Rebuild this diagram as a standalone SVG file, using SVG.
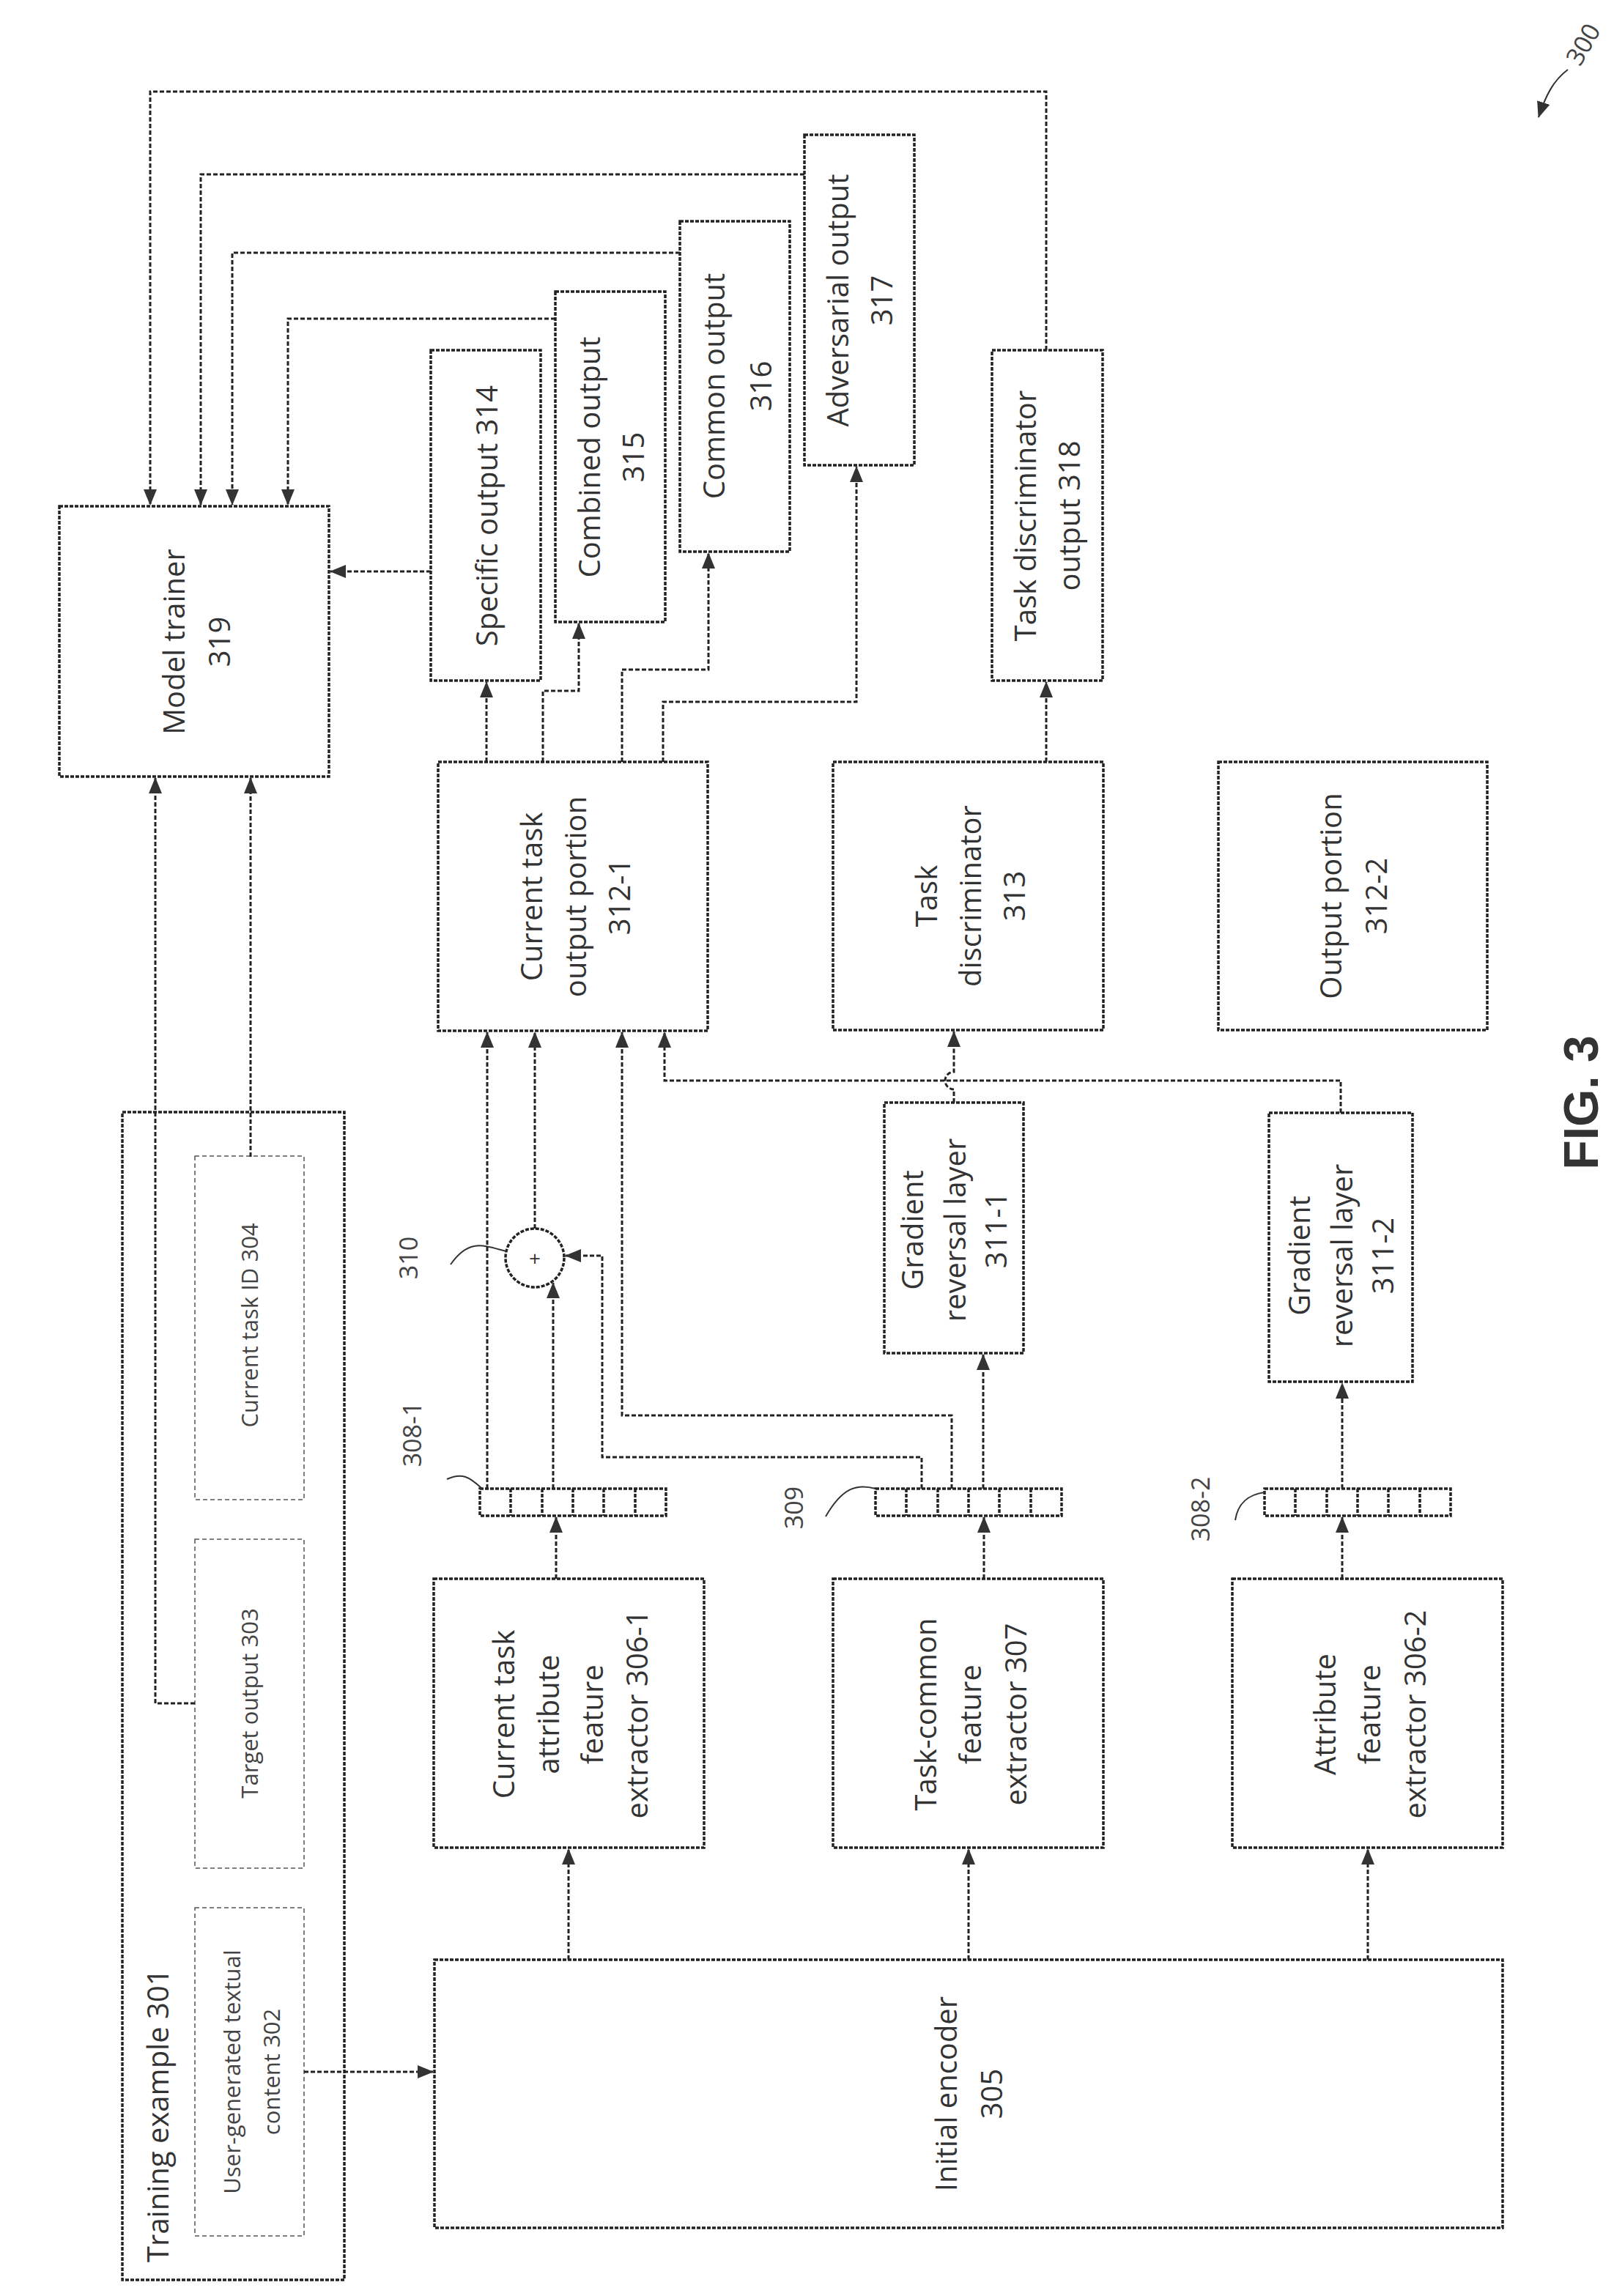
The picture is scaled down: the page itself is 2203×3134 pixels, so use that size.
<svg xmlns="http://www.w3.org/2000/svg" width="2203" height="3134" viewBox="0 0 2203 3134">
<style>
.b{fill:none;stroke:#222;stroke-width:3.5;stroke-dasharray:5 2}
.d{fill:none;stroke:#555;stroke-width:1.5;stroke-dasharray:6 4}
.c{fill:none;stroke:#222;stroke-width:3;stroke-dasharray:6 3}
.s{fill:none;stroke:#333;stroke-width:2}
text{font-family:"Open Sans","Liberation Sans",sans-serif;fill:#333;text-anchor:middle;dominant-baseline:central}
.t{font-size:40px}
.g{font-size:31px;fill:#444}
.l{font-size:34px;fill:#444}
</style>
<defs>
<marker id="a" markerWidth="22" markerHeight="18" refX="21" refY="9" orient="auto" markerUnits="userSpaceOnUse">
<path d="M0,0 L22,9 L0,18 Z" fill="#333"/>
</marker>
</defs>
<rect width="2203" height="3134" fill="#fff"/>

<g id="n319"><rect class="b" x="81" y="691" width="368" height="369"/>
<text class="t" transform="translate(267,876) rotate(-90)"><tspan x="0" y="-31">Model trainer</tspan><tspan x="0" y="31">319</tspan></text></g>

<g id="n314"><rect class="b" x="588" y="478" width="150" height="451"/>
<text class="t" transform="translate(663,704) rotate(-90)">Specific output 314</text></g>
<g id="n315"><rect class="b" x="758" y="398" width="150" height="451"/>
<text class="t" transform="translate(833,624) rotate(-90)"><tspan x="0" y="-30">Combined output</tspan><tspan x="0" y="30">315</tspan></text></g>
<g id="n316"><rect class="b" x="928" y="302" width="150" height="451"/>
<text class="t" transform="translate(1005,527) rotate(-90)"><tspan x="0" y="-32">Common output</tspan><tspan x="0" y="32">316</tspan></text></g>
<g id="n317"><rect class="b" x="1098" y="184" width="150" height="451"/>
<text class="t" transform="translate(1172,410) rotate(-90)"><tspan x="0" y="-30">Adversarial output</tspan><tspan x="0" y="30">317</tspan></text></g>
<g id="n318"><rect class="b" x="1354" y="478" width="151" height="451"/>
<text class="t" transform="translate(1428,704) rotate(-90)"><tspan x="0" y="-30">Task discriminator</tspan><tspan x="0" y="30">output 318</tspan></text></g>

<g id="n312-1"><rect class="b" x="598" y="1040" width="368" height="367"/>
<text class="t" transform="translate(784,1224) rotate(-90)"><tspan x="0" y="-60">Current task</tspan><tspan x="0" y="0">output portion</tspan><tspan x="0" y="60">312-1</tspan></text></g>
<g id="n313"><rect class="b" x="1137" y="1040" width="369" height="366"/>
<text class="t" transform="translate(1323,1223) rotate(-90)"><tspan x="0" y="-60">Task</tspan><tspan x="0" y="0">discriminator</tspan><tspan x="0" y="60">313</tspan></text></g>
<g id="n312-2"><rect class="b" x="1663" y="1040" width="367" height="366"/>
<text class="t" transform="translate(1846,1223) rotate(-90)"><tspan x="0" y="-31">Output portion</tspan><tspan x="0" y="31">312-2</tspan></text></g>

<g id="n311-1"><rect class="b" x="1207" y="1505" width="190" height="342"/>
<text class="t" transform="translate(1302,1679) rotate(-90)"><tspan x="0" y="-58">Gradient</tspan><tspan x="0" y="0">reversal layer</tspan><tspan x="0" y="56">311-1</tspan></text></g>
<g id="n311-2"><rect class="b" x="1732" y="1519" width="196" height="367"/>
<text class="t" transform="translate(1830,1714) rotate(-90)"><tspan x="0" y="-58">Gradient</tspan><tspan x="0" y="0">reversal layer</tspan><tspan x="0" y="56">311-2</tspan></text></g>

<g id="n310"><circle class="b" cx="730" cy="1717" r="40"/>
<text class="t" x="730" y="1717" style="font-size:28px">+</text></g>

<g id="n308-1"><rect class="b" x="655" y="2032" width="254" height="37"/>
<path class="b" d="M697,2032V2069M740,2032V2069M782,2032V2069M824,2032V2069M867,2032V2069"/></g>
<g id="n309"><rect class="b" x="1195" y="2032" width="254" height="37"/>
<path class="b" d="M1237,2032V2069M1280,2032V2069M1322,2032V2069M1364,2032V2069M1407,2032V2069"/></g>
<g id="n308-2"><rect class="b" x="1726" y="2032" width="254" height="37"/>
<path class="b" d="M1768,2032V2069M1811,2032V2069M1853,2032V2069M1895,2032V2069M1938,2032V2069"/></g>

<g id="n306-1"><rect class="b" x="592" y="2155" width="369" height="367"/>
<text class="t" transform="translate(777,2340) rotate(-90)"><tspan x="0" y="-91">Current task</tspan><tspan x="0" y="-30">attribute</tspan><tspan x="0" y="30">feature</tspan><tspan x="0" y="91">extractor 306-1</tspan></text></g>
<g id="n307"><rect class="b" x="1137" y="2155" width="369" height="367"/>
<text class="t" transform="translate(1323,2340) rotate(-90)"><tspan x="0" y="-61">Task-common</tspan><tspan x="0" y="0">feature</tspan><tspan x="0" y="62">extractor 307</tspan></text></g>
<g id="n306-2"><rect class="b" x="1682" y="2155" width="369" height="367"/>
<text class="t" transform="translate(1868,2340) rotate(-90)"><tspan x="0" y="-61">Attribute</tspan><tspan x="0" y="0">feature</tspan><tspan x="0" y="62">extractor 306-2</tspan></text></g>

<g id="n305"><rect class="b" x="593" y="2675" width="1458" height="366"/>
<text class="t" transform="translate(1321,2858) rotate(-90)"><tspan x="0" y="-31">Initial encoder</tspan><tspan x="0" y="31">305</tspan></text></g>

<g id="n301"><rect class="b" x="167" y="1518" width="303" height="1594"/>
<text class="t" style="text-anchor:start" transform="translate(214,3088) rotate(-90)">Training example 301</text></g>
<g id="n302"><rect class="d" x="266" y="2604" width="149" height="448"/>
<text class="g" transform="translate(343,2828) rotate(-90)"><tspan x="0" y="-27">User-generated textual</tspan><tspan x="0" y="27">content 302</tspan></text></g>
<g id="n303"><rect class="d" x="266" y="2101" width="149" height="449"/>
<text class="g" transform="translate(340,2325) rotate(-90)">Target output 303</text></g>
<g id="n304"><rect class="d" x="266" y="1578" width="149" height="469"/>
<text class="g" transform="translate(340,1809) rotate(-90)">Current task ID 304</text></g>

<g id="labels">
<text class="l" transform="translate(557,1717) rotate(-90)">310</text>
<text class="l" transform="translate(562,1958) rotate(-90)">308-1</text>
<text class="l" transform="translate(1083,2058) rotate(-90)">309</text>
<text class="l" transform="translate(1638,2060) rotate(-90)">308-2</text>
<path class="s" d="M615,1726 C640,1690 660,1700 691,1708"/>
<path class="s" d="M610,2019 C630,2010 640,2015 658,2032"/>
<path class="s" d="M1127,2070 C1150,2030 1170,2025 1195,2032"/>
<path class="s" d="M1686,2075 C1690,2050 1705,2040 1726,2037"/>
<text style="font-size:66px;font-weight:bold;fill:#333;font-family:'Liberation Sans',sans-serif" transform="translate(2158,1505) rotate(-90)">FIG. 3</text>
<text class="l" transform="translate(2160,60) rotate(-60)">300</text>
<path class="s" d="M2140,95 C2120,110 2110,130 2100,160" marker-end="url(#a)"/>
</g>

<g id="connectors" marker-end="url(#a)">
<path class="c" d="M1428,478V125H205V689"/>
<path class="c" d="M1098,238H274V689"/>
<path class="c" d="M928,345H317V689"/>
<path class="c" d="M758,435H393V689"/>
<path class="c" d="M588,780H451"/>
<path class="c" d="M664,1040V931"/>
<path class="c" d="M741,1040V943H790V851"/>
<path class="c" d="M849,1040V914H967V755"/>
<path class="c" d="M905,1040V958H1169V637"/>
<path class="c" d="M1428,1040V931"/>
<path class="c" d="M266,2325H212V1062"/>
<path class="c" d="M342,1579V1062"/>
<path class="c" d="M415,2828H591"/>
<path class="c" d="M776,2675V2524"/>
<path class="c" d="M1322,2675V2524"/>
<path class="c" d="M1867,2675V2524"/>
<path class="c" d="M759,2155V2071"/>
<path class="c" d="M1343,2155V2071"/>
<path class="c" d="M1832,2155V2071"/>
<path class="c" d="M665,2032V1409"/>
<path class="c" d="M755,2032V1751"/>
<path class="c" d="M730,1677V1409"/>
<path class="c" d="M1258,2032V1989H822V1714H772"/>
<path class="c" d="M1299,2032V1932H849V1409"/>
<path class="c" d="M1342,2032V1849"/>
<path class="c" d="M1302,1505V1487A12,12 0 0 1 1302,1463V1408"/>
<path class="c" d="M1830,1519V1475H907V1409"/>
<path class="c" d="M1832,2032V1888"/>
</g>
</svg>
